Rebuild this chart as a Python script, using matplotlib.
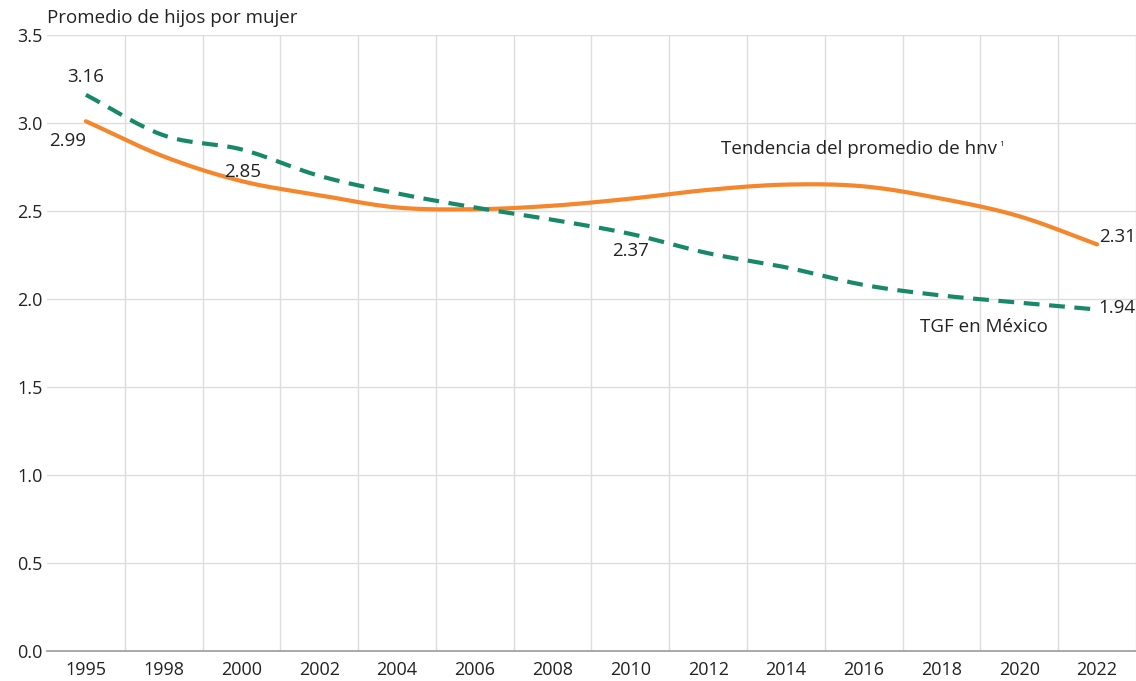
import numpy as np
import matplotlib
matplotlib.use("Agg")
import matplotlib.pyplot as plt

plt.rcParams['font.family'] = ['Open Sans', 'DejaVu Sans']

years = ['1995', '1998', '2000', '2002', '2004', '2006', '2008', '2010',
         '2012', '2014', '2016', '2018', '2020', '2022']
tgf = [3.16, 2.93, 2.85, 2.70, 2.60, 2.52, 2.45, 2.37, 2.26, 2.18, 2.08, 2.02, 1.98, 1.94]
tendencia = [3.01, 2.81, 2.67, 2.59, 2.52, 2.51, 2.53, 2.57, 2.62, 2.65, 2.64, 2.57, 2.47, 2.31]

GREEN = '#17896a'
ORANGE = '#f5862b'
TXT = '#222222'


def catmull_rom(x, y, n=30):
    x = np.asarray(x, float); y = np.asarray(y, float)
    px = np.concatenate([[2 * x[0] - x[1]], x, [2 * x[-1] - x[-2]]])
    py = np.concatenate([[2 * y[0] - y[1]], y, [2 * y[-1] - y[-2]]])
    xs, ys = [], []
    for i in range(1, len(px) - 2):
        t = np.linspace(0, 1, n, endpoint=False)
        for arr, out in ((px, xs), (py, ys)):
            p0, p1, p2, p3 = arr[i - 1], arr[i], arr[i + 1], arr[i + 2]
            out.append(0.5 * ((2 * p1) + (-p0 + p2) * t + (2 * p0 - 5 * p1 + 4 * p2 - p3) * t ** 2
                              + (-p0 + 3 * p1 - 3 * p2 + p3) * t ** 3))
    xs.append([x[-1]]); ys.append([y[-1]])
    return np.concatenate(xs), np.concatenate(ys)


fig = plt.figure(figsize=(11.36, 6.81), dpi=100)
ax = fig.add_axes([47 / 1136, 30 / 681, (1136 - 47) / 1136, (651 - 35) / 681])

x = np.arange(len(years))
sx, sy = catmull_rom(x, tendencia)
ax.plot(sx, sy, color=ORANGE, lw=3.0, solid_capstyle='round', zorder=3)
gx, gy = catmull_rom(x, tgf)
ax.plot(gx, gy, color=GREEN, lw=3.0, dashes=(3.8, 2.3), zorder=3)

ax.set_xlim(-0.5, len(years) - 0.5)
ax.set_ylim(0, 3.5)
ax.set_yticks(np.arange(0, 3.51, 0.5))
ax.set_yticklabels([f'{v:.1f}' for v in np.arange(0, 3.51, 0.5)])
ax.set_xticks(x)
ax.set_xticklabels(years)

ax.grid(False)
for v in np.arange(0.5, len(years), 1):
    ax.axvline(v, color='#dddddd', lw=1.0, zorder=0)
for v in np.arange(0.5, 3.51, 0.5):
    ax.axhline(v, color='#dddddd', lw=1.0, zorder=0)

for s in ['top', 'right', 'left']:
    ax.spines[s].set_visible(False)
ax.spines['bottom'].set_color('#999999')
ax.spines['bottom'].set_linewidth(1.2)
ax.tick_params(axis='both', which='both', length=0, labelsize=13, colors=TXT)
ax.tick_params(axis='x', pad=7)
ax.tick_params(axis='y', pad=3)

fs = 13.5
ax.text(0, 3.16 + 0.1, '3.16', ha='center', va='center', fontsize=fs, color=TXT)
ax.text(-0.24, 2.90, '2.99', ha='center', va='center', fontsize=fs, color=TXT)
ax.text(2.02, 2.72, '2.85', ha='center', va='center', fontsize=fs, color=TXT)
ax.text(7, 2.27, '2.37', ha='center', va='center', fontsize=fs, color=TXT)
ax.text(13.02, 2.35, '2.31', ha='left', va='center', fontsize=fs, color=TXT)
ax.text(13.02, 1.95, '1.94', ha='left', va='center', fontsize=fs, color=TXT)
t = ax.text(8.17, 2.85, 'Tendencia del promedio de hnv', ha='left', va='center',
            fontsize=fs, color=TXT)
ax.annotate('1', xy=(1, 1), xycoords=t, xytext=(1, -0.5), textcoords='offset points',
            ha='left', va='top', fontsize=6, color=TXT)
ax.text(10.72, 1.84, 'TGF en México', ha='left', va='center', fontsize=fs, color=TXT)

fig.text(47 / 1136, 1 - 18 / 681, 'Promedio de hijos por mujer', ha='left', va='center',
         fontsize=13.5, color=TXT)

fig.savefig('out.png', dpi=100, facecolor='white')
